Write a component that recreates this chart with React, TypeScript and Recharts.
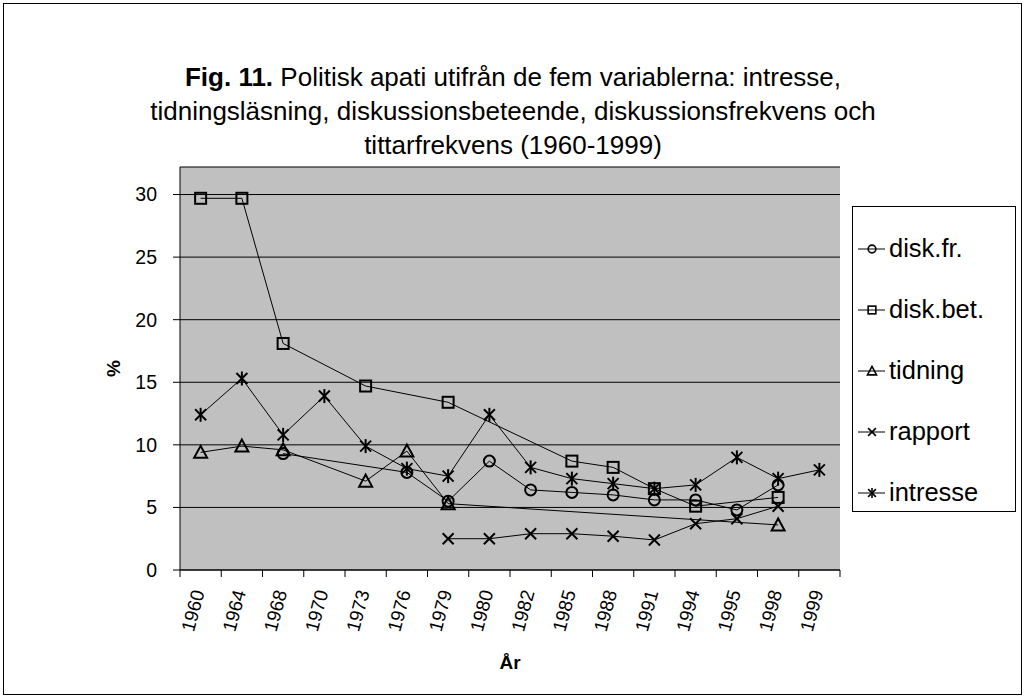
import { LineChart, Line, XAxis, YAxis, CartesianGrid, Label } from "recharts";

const years = ["1960", "1964", "1968", "1970", "1973", "1976", "1979", "1980", "1982", "1985", "1988", "1991", "1994", "1995", "1998", "1999"];
const diskFr = [null, null, 9.3, null, null, 7.8, 5.5, 8.7, 6.4, 6.2, 6.0, 5.6, 5.6, 4.8, 6.8, null];
const diskBet = [29.7, 29.7, 18.1, null, 14.7, null, 13.4, null, null, 8.7, 8.2, 6.5, 5.1, null, 5.8, null];
const tidning = [9.4, 9.9, 9.6, null, 7.1, 9.5, 5.3, null, null, null, null, null, null, null, 3.6, null];
const rapport = [null, null, null, null, null, null, 2.5, 2.5, 2.9, 2.9, 2.7, 2.4, 3.7, 4.1, 5.1, null];
const intresse = [12.4, 15.3, 10.8, 13.9, 9.9, 8.1, 7.5, 12.4, 8.2, 7.3, 6.9, 6.5, 6.8, 9.0, 7.3, 8.0];
const yTicks = [0, 5, 10, 15, 20, 25, 30];

const series = [
  { key: "diskFr", name: "disk.fr.", values: diskFr, marker: "circle" },
  { key: "diskBet", name: "disk.bet.", values: diskBet, marker: "square" },
  { key: "tidning", name: "tidning", values: tidning, marker: "triangle" },
  { key: "rapport", name: "rapport", values: rapport, marker: "x" },
  { key: "intresse", name: "intresse", values: intresse, marker: "star" },
];

const data = years.map((year, i) => {
  const row: any = { year };
  series.forEach((s) => (row[s.key] = s.values[i]));
  return row;
});

const FONT = '"Liberation Sans", Arial, sans-serif';
const PLOT_W = 660;
const BAND = PLOT_W / years.length;

function Marker({ type, cx, cy, s = 1, w = 2 }: any) {
  const p = { stroke: "#000", strokeWidth: w, fill: "none" };
  if (type === "circle") return <circle cx={cx} cy={cy} r={5.5 * s} {...p} />;
  if (type === "square") return <rect x={cx - 5.5 * s} y={cy - 5.5 * s} width={11 * s} height={11 * s} {...p} />;
  if (type === "triangle")
    return <polygon points={`${cx},${cy - 6.5 * s} ${cx - 6.5 * s},${cy + 5.5 * s} ${cx + 6.5 * s},${cy + 5.5 * s}`} {...p} />;
  const d = 5.5 * s;
  return (
    <g {...p}>
      <line x1={cx - d} y1={cy - d} x2={cx + d} y2={cy + d} />
      <line x1={cx - d} y1={cy + d} x2={cx + d} y2={cy - d} />
      {type === "star" && <line x1={cx} y1={cy - 7 * s} x2={cx} y2={cy + 7 * s} />}
    </g>
  );
}

const XTick = ({ x, y, payload, index }: any) => (
  <g>
    <line x1={x - BAND / 2} y1={y} x2={x - BAND / 2} y2={y + 7} stroke="#000" />
    {index === years.length - 1 && <line x1={x + BAND / 2} y1={y} x2={x + BAND / 2} y2={y + 7} stroke="#000" />}
    <text
      x={x + 4}
      y={y + 22}
      transform={`rotate(-75, ${x + 4}, ${y + 22})`}
      textAnchor="end"
      fontSize={19}
      fontFamily={FONT}
      fill="#000"
    >
      {payload.value}
    </text>
  </g>
);

const LegendBox = () => (
  <div
    style={{
      position: "absolute",
      left: 848,
      top: 202,
      width: 164,
      height: 306,
      border: "1px solid #000",
      background: "#fff",
      boxSizing: "border-box",
      paddingTop: 11,
    }}
  >
    {series.map((s) => (
      <div key={s.key} style={{ display: "flex", alignItems: "center", height: 61 }}>
        <svg width={31} height={20} style={{ marginLeft: 5, flexShrink: 0 }}>
          <line x1={0} y1={10} x2={27} y2={10} stroke="#000" strokeWidth={1} />
          <Marker type={s.marker} cx={14} cy={10} s={0.7} w={1.6} />
        </svg>
        <span style={{ fontSize: 25.5, fontFamily: FONT, color: "#000", whiteSpace: "nowrap" }}>{s.name}</span>
      </div>
    ))}
  </div>
);

export default function App() {
  return (
    <>
      <style>{"html,body{margin:0;padding:0;background:#fff;overflow:hidden}"}</style>
      <div
        style={{
          position: "relative",
          margin: 3,
          width: 1019,
          height: 692,
          border: "1px solid #000",
          boxSizing: "border-box",
          background: "#fff",
        }}
      >
        <div
          style={{
            position: "absolute",
            top: 56,
            left: -4,
            width: 1026,
            textAlign: "center",
            fontFamily: FONT,
            fontSize: 26,
            lineHeight: "34px",
            color: "#000",
          }}
        >
          <b>Fig. 11.</b> Politisk apati utifrån de fem variablerna: intresse,
          <br />
          tidningsläsning, diskussionsbeteende, diskussionsfrekvens och
          <br />
          tittarfrekvens (1960-1999)
        </div>
        <div style={{ position: "absolute", left: -4, top: -4 }}>
          <LineChart width={1026} height={699} data={data} margin={{ top: 167, right: 186, bottom: 0, left: 100 }}>
            <CartesianGrid vertical={false} stroke="#000" fill="#c0c0c0" fillOpacity={1} />
            <XAxis
              dataKey="year"
              scale="band"
              interval={0}
              height={129}
              tickSize={0}
              tickMargin={0}
              tickLine={false}
              axisLine={{ stroke: "#000" }}
              tick={<XTick />}
            >
              <Label
                value="År"
                position="insideBottom"
                offset={30}
                style={{ fontSize: 19, fontWeight: "bold", fontFamily: FONT, fill: "#000" }}
              />
            </XAxis>
            <YAxis
              width={80}
              domain={[0, 32.2]}
              ticks={yTicks}
              interval={0}
              tickSize={7}
              tickMargin={16}
              axisLine={{ stroke: "#000" }}
              tickLine={{ stroke: "#000" }}
              tick={{ fontSize: 19.5, fontFamily: FONT, fill: "#000" }}
            >
              <Label
                content={({ viewBox }: any) => (
                  <text
                    x={viewBox.x + 20}
                    y={viewBox.y + viewBox.height / 2}
                    transform={`rotate(-90, ${viewBox.x + 20}, ${viewBox.y + viewBox.height / 2})`}
                    textAnchor="middle"
                    fontSize={19}
                    fontWeight="bold"
                    fontFamily={FONT}
                    fill="#000"
                  >
                    %
                  </text>
                )}
              />
            </YAxis>
            {series.map((s) => (
              <Line
                key={s.key}
                dataKey={s.key}
                name={s.name}
                stroke="#000"
                strokeWidth={1}
                connectNulls
                isAnimationActive={false}
                activeDot={false}
                dot={(props: any) => {
                  const { cx, cy, index, value } = props;
                  if (cx == null || cy == null || value == null) return <g key={`d-${s.key}-${index}`} />;
                  return (
                    <g key={`d-${s.key}-${index}`}>
                      <Marker type={s.marker} cx={cx} cy={cy} />
                    </g>
                  );
                }}
              />
            ))}
          </LineChart>
        </div>
        <LegendBox />
      </div>
    </>
  );
}
